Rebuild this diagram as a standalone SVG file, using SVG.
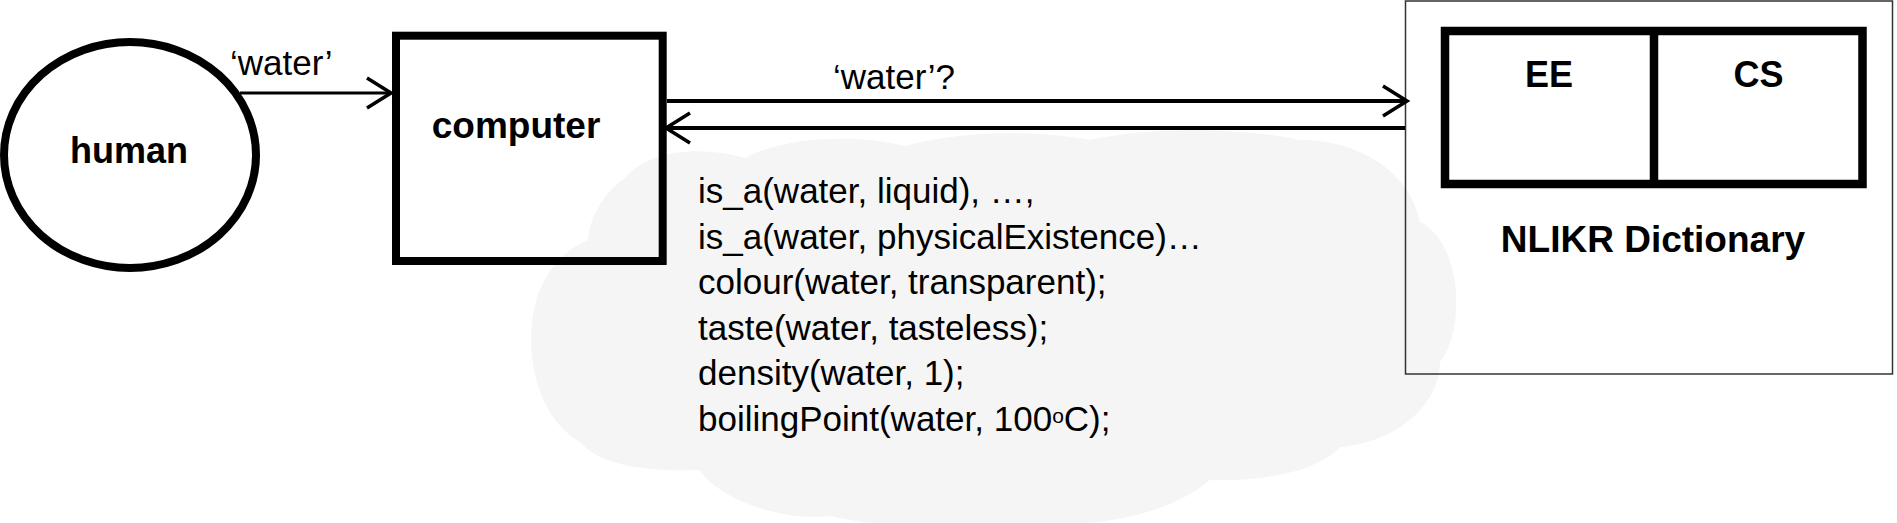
<svg xmlns="http://www.w3.org/2000/svg" width="1897" height="523" viewBox="0 0 1897 523">
  <style>
    .lbl { font-family: "Liberation Sans", Arial, sans-serif; font-weight: bold; fill: #000; }
    .txt { font-family: "Liberation Sans", Arial, sans-serif; font-size: 35px; fill: #000; }
    .thick { fill: none; stroke: #000; }
    .conn { fill: none; stroke: #000; }
  </style>
  <defs>
    <marker id="chev" markerUnits="userSpaceOnUse" viewBox="0 0 30 34" refX="27" refY="17" markerWidth="30" markerHeight="34" orient="auto">
      <path d="M3,2 L27,17 L3,32" fill="none" stroke="#000" stroke-width="3.5" stroke-linejoin="miter"/>
    </marker>
  </defs>
  <rect width="1897" height="523" fill="#fff"/>

  <g id="facts">
    <path d="M625,178 C648,150 700,145 745,158 C785,136 860,134 905,146 C965,130 1040,130 1090,140 C1150,126 1250,128 1300,140 C1360,140 1410,172 1420,222 C1462,242 1466,330 1440,362 C1440,402 1400,442 1340,447 C1318,472 1260,482 1210,480 C1180,506 1120,526 1060,523 C1000,532 900,532 830,516 C790,522 720,502 700,470 C650,472 600,466 580,442 C540,420 524,360 534,310 C540,280 558,252 588,240 C590,215 605,192 625,178 Z" fill="#f5f5f5"/>
    <text class="txt" x="698" y="203">is_a(water, liquid), …,</text>
    <text class="txt" x="698" y="248.5">is_a(water, physicalExistence)…</text>
    <text class="txt" x="698" y="294">colour(water, transparent);</text>
    <text class="txt" x="698" y="339.5">taste(water, tasteless);</text>
    <text class="txt" x="698" y="385">density(water, 1);</text>
    <text class="txt" x="698" y="430.5">boilingPoint(water, 100<tspan font-size="21" dy="-8">o</tspan><tspan dy="8">C);</tspan></text>
  </g>

  <g id="human">
    <ellipse cx="130" cy="155" rx="126" ry="113" class="thick" stroke-width="8"/>
    <text class="lbl" x="129" y="163" font-size="36" text-anchor="middle">human</text>
  </g>

  <g id="computer">
    <rect x="396" y="35.7" width="266.7" height="225.3" class="thick" stroke-width="8"/>
    <text class="lbl" x="516" y="138" font-size="37" text-anchor="middle">computer</text>
  </g>

  <g id="dictionary">
    <rect x="1405.5" y="1" width="487" height="373" fill="none" stroke="#333" stroke-width="1.5"/>
    <rect x="1445" y="31" width="417.5" height="153" class="thick" stroke-width="8.5"/>
    <line x1="1654" y1="31" x2="1654" y2="184" class="thick" stroke-width="8.5"/>
    <text class="lbl" x="1549" y="87" font-size="36" text-anchor="middle">EE</text>
    <text class="lbl" x="1758.5" y="87" font-size="36" text-anchor="middle">CS</text>
    <text class="lbl" x="1653" y="251.7" font-size="37" text-anchor="middle">NLIKR Dictionary</text>
  </g>

  <g id="connectors">
    <line x1="240" y1="93" x2="391" y2="93" class="conn" stroke-width="3.2" marker-end="url(#chev)"/>
    <text class="txt" x="230" y="75">‘water’</text>
    <line x1="667" y1="101" x2="1407" y2="101" class="conn" stroke-width="4" marker-end="url(#chev)"/>
    <text class="txt" x="894" y="89" text-anchor="middle">‘water’?</text>
    <line x1="1405" y1="128" x2="666" y2="128" class="conn" stroke-width="4" marker-end="url(#chev)"/>
  </g>
</svg>
